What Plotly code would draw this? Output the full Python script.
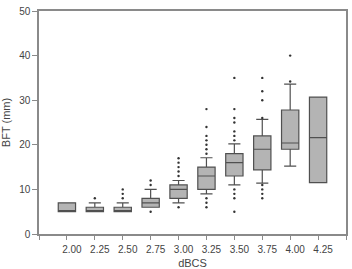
import plotly.graph_objects as go

categories = ["2.00", "2.25", "2.50", "2.75", "3.00", "3.25", "3.50", "3.75", "4.00", "4.25"]
q1 =      [5, 5, 5, 6, 8, 10, 13, 14.4, 19, 11.5]
median =  [5, 5, 5, 7, 10, 13, 16, 19, 20.4, 21.6]
q3 =      [7, 6, 6, 8, 11, 15, 18, 22, 27.8, 30.7]
lower_w = [5, 5, 5, 6, 7, 9, 11, 11.4, 15.2, 11.5]
upper_w = [7, 7, 7, 10, 12, 17.1, 20.2, 25.7, 33.6, 30.7]

outliers = {
    "2.25": [8],
    "2.50": [8, 9, 10],
    "2.75": [5, 11, 12],
    "3.00": [6, 13, 14, 15, 16, 17],
    "3.25": [6, 7, 8, 18, 19, 20, 21, 22, 24, 28],
    "3.50": [5, 8, 9, 10, 21, 22, 23, 25, 26, 28, 35],
    "3.75": [8, 9, 10, 11, 26, 30, 32, 35],
    "4.00": [34.2, 40],
}

idx = list(range(len(categories)))

fig = go.Figure()
fig.add_trace(go.Box(
    x=idx, q1=q1, median=median, q3=q3,
    lowerfence=lower_w, upperfence=upper_w,
    width=0.62, whiskerwidth=0.7,
    fillcolor="#b4b4b4", line=dict(color="#505050", width=1.2),
    boxpoints=False, showlegend=False, hoverinfo="skip",
))

ox, oy = [], []
for c, vals in outliers.items():
    i = categories.index(c)
    for v in vals:
        ox.append(i)
        oy.append(v)
fig.add_trace(go.Scatter(
    x=ox, y=oy, mode="markers",
    marker=dict(color="#333333", size=2.4),
    showlegend=False, hoverinfo="skip",
))

tickvals = [-1] + idx + [10]
ticktext = [""] + categories + [""]

fig.update_layout(
    width=352, height=269,
    margin=dict(l=39, r=5.5, t=11, b=35),
    paper_bgcolor="white", plot_bgcolor="white",
    font=dict(family="Liberation Sans, Arial, sans-serif", color="#444444"),
    boxmode="overlay",
)
fig.update_xaxes(
    range=[-1, 10], tickvals=tickvals, ticktext=ticktext,
    showgrid=False, zeroline=False, automargin=False,
    showline=True, linecolor="#8a8a8a", linewidth=1.5, mirror=True,
    ticks="outside", ticklen=4, tickcolor="#8a8a8a", tickwidth=1,
    tickfont=dict(size=10, color="#444444"),
    ticklabelstandoff=1, ticklabelshift=5,
    title=dict(text="dBCS", font=dict(size=11, color="#444444"), standoff=11),
)
fig.update_yaxes(
    range=[0, 50], tickvals=[0, 10, 20, 30, 40, 50],
    showgrid=False, zeroline=False, automargin=False,
    showline=True, linecolor="#8a8a8a", linewidth=1.5, mirror=True,
    ticks="outside", ticklen=5, tickcolor="#8a8a8a", tickwidth=1,
    tickfont=dict(size=10, color="#444444"),
    title=dict(text="BFT (mm)", font=dict(size=11, color="#444444"), standoff=8),
)

fig.write_html("out.html")
